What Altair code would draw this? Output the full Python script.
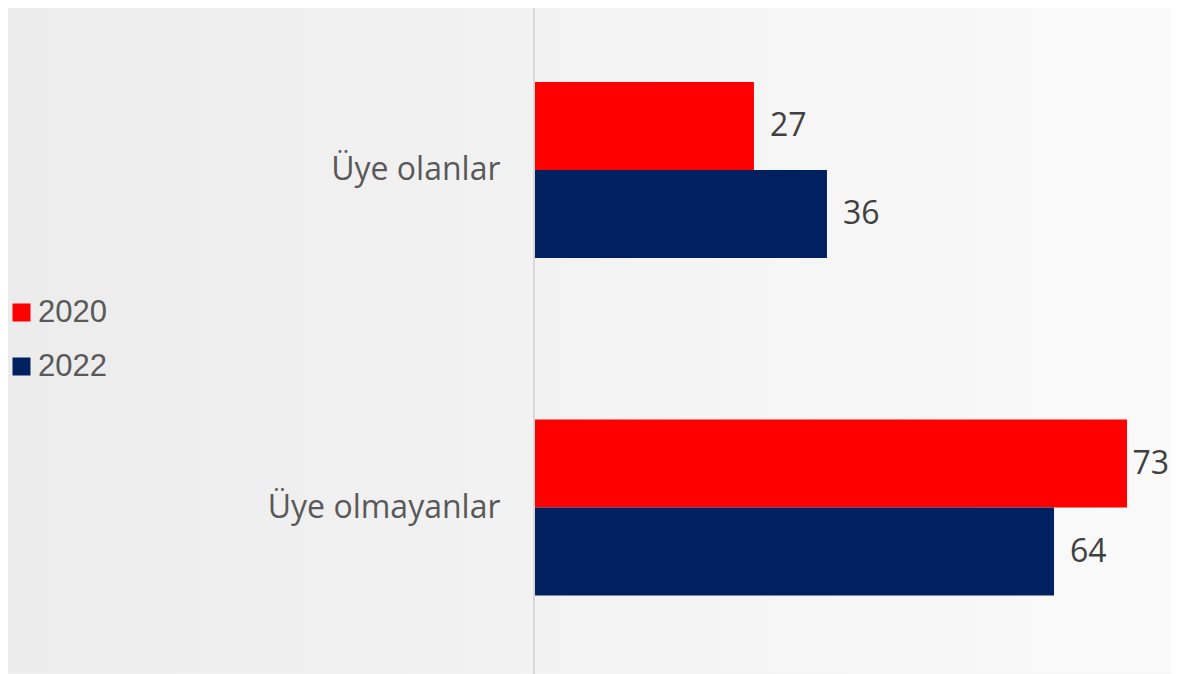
import altair as alt
import pandas as pd

categories = ["Üye olanlar", "Üye olmayanlar"]
years = ["2020", "2022"]
values_2020 = [27, 73]
values_2022 = [36, 64]
colors = ["#ff0000", "#002060"]

rows = []
for i, c in enumerate(categories):
    rows.append({"kategori": c, "yil": years[0], "deger": values_2020[i]})
    rows.append({"kategori": c, "yil": years[1], "deger": values_2022[i]})
df = pd.DataFrame(rows)

W = 636
H = 661.5
XMAX = W / 8.11

y_enc = alt.Y(
    "kategori:N",
    sort=categories,
    scale=alt.Scale(paddingInner=0.4785, paddingOuter=0.219),
    axis=alt.Axis(
        title=None, domain=False, ticks=False, labelFontSize=32,
        labelFont="Open Sans", labelColor="#595959", labelPadding=35,
        labelLimit=0, zindex=2,
    ),
)
yoff_enc = alt.YOffset("yil:N", sort=years, scale=alt.Scale(paddingInner=0, paddingOuter=0))
x_scale = alt.Scale(domain=[0, XMAX], nice=False, zero=True)
x_enc = alt.X("deger:Q", scale=x_scale, axis=None)

base = alt.Chart(df)

bg = alt.Chart(pd.DataFrame({"a": [0]})).mark_rect(
    color=alt.Gradient(
        gradient="linear",
        stops=[
            alt.GradientStop(color="#ececec", offset=0),
            alt.GradientStop(color="#f3f3f3", offset=0.5),
            alt.GradientStop(color="#fafafa", offset=1),
        ],
        x1=0, x2=1, y1=0, y2=0,
    )
).encode(
    x=alt.value(-527), x2=alt.value(W), y=alt.value(0), y2=alt.value(H + 4)
)

bars = base.mark_bar().encode(
    y=y_enc,
    yOffset=yoff_enc,
    x=x_enc,
    color=alt.Color(
        "yil:N",
        scale=alt.Scale(domain=years, range=colors),
        legend=alt.Legend(
            title=None, orient="none", legendX=-529, legendY=289,
            symbolType="square", symbolSize=324, symbolStrokeWidth=0,
            labelFont="Liberation Sans", labelFontSize=31, labelColor="#595959",
            labelOffset=1, rowPadding=22,
        ),
    ),
)

labels = base.transform_calculate(
    pos="min(datum.deger, 71.7)"
).mark_text(
    align="left", baseline="middle", dx=16, font="Open Sans", fontSize=32, color="#404040"
).encode(
    y=y_enc, yOffset=yoff_enc,
    x=alt.X("pos:Q", scale=x_scale, axis=None),
    text="deger:Q",
)

rule = alt.Chart(pd.DataFrame({"a": [0]})).mark_rule(color="#d9d9d9", strokeWidth=2).encode(
    x=alt.value(-1), y=alt.value(-6), y2=alt.value(670)
)

chart = (
    alt.layer(bg, rule, bars, labels)
    .properties(
        width=W, height=H, background="#f3f3f3",
        padding={"left": 527, "top": 0, "right": 0, "bottom": 4},
        autosize=alt.AutoSizeParams(type="none"),
    )
    .configure_view(stroke=None)
)

chart.save("out.html", embed_options={"renderer": "svg", "actions": False})
